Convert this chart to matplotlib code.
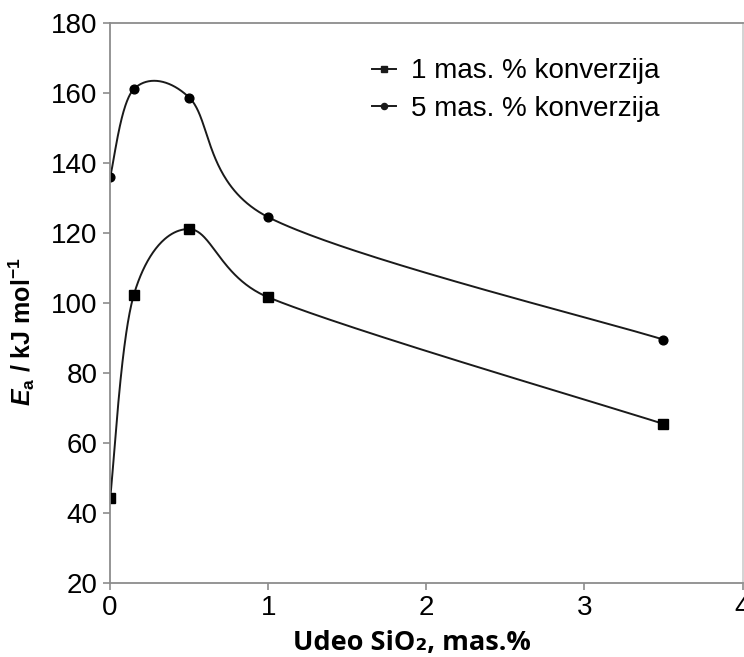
import matplotlib.pyplot as plt
import numpy as np

plt.rcParams['font.family'] = ['Liberation Sans', 'DejaVu Sans']
plt.rcParams['mathtext.fontset'] = 'custom'
plt.rcParams['mathtext.rm'] = 'Liberation Sans:bold'
plt.rcParams['mathtext.it'] = 'Liberation Sans:italic:bold'
plt.rcParams['mathtext.bf'] = 'Liberation Sans:bold'

# data
udeo_sio2 = [0.0, 0.15, 0.5, 1.0, 3.5]
ea_1 = [44.1, 102.3, 121.1, 101.6, 65.4]
ea_5 = [136.0, 161.1, 158.7, 124.5, 89.5]
labels = ['1 mas. % konverzija', '5 mas. % konverzija']


def smooth(ax, x, y, n=80):
  # Excel-like smoothed line, worked out in screen space:
  # Bezier segments, tangent = 1/6 of neighbour chord, capped at half the segment
  tr = ax.transData
  p = tr.transform(np.column_stack([x, y]))
  pts = np.vstack([p[0], p, p[-1]])
  t = np.linspace(0, 1, n)[:, None]
  out = []
  for i in range(1, len(pts) - 2):
    p0, p1, p2, p3 = pts[i - 1], pts[i], pts[i + 1], pts[i + 2]
    d12 = np.linalg.norm(p2 - p1)
    v1 = (p2 - p0) / 6
    v2 = (p3 - p1) / 6
    if np.linalg.norm(v1) > d12 / 2:
      v1 = v1 * (d12 / 2) / np.linalg.norm(v1)
    if np.linalg.norm(v2) > d12 / 2:
      v2 = v2 * (d12 / 2) / np.linalg.norm(v2)
    c1 = p1 + v1
    c2 = p2 - v2
    seg = (1 - t) ** 3 * p1 + 3 * (1 - t) ** 2 * t * c1 + 3 * (1 - t) * t ** 2 * c2 + t ** 3 * p2
    out.append(seg)
  out = tr.inverted().transform(np.vstack(out))
  return out[:, 0], out[:, 1]


fig = plt.figure(figsize=(7.44, 6.57), dpi=100)
ax = fig.add_axes([0.148, 0.113, 0.850, 0.852])
ax.set_xlim(0, 4)
ax.set_ylim(20, 180)

for ys, mk, ms, lab in [(ea_1, 's', 7, labels[0]), (ea_5, 'o', 6.3, labels[1])]:
  sx, sy = smooth(ax, udeo_sio2, ys)
  ax.plot(sx, sy, color='#1a1a1a', lw=1.4)
  ax.plot(udeo_sio2, ys, linestyle='none', marker=mk, ms=ms, color='black')
  ax.plot([], [], color='#1a1a1a', lw=1.4, marker=mk, ms=ms * 0.7, label=lab)

ax.set_xticks([0, 1, 2, 3, 4])
ax.set_yticks(np.arange(20, 181, 20))

for s in ax.spines.values():
  s.set_color('#8c8c8c')
  s.set_linewidth(1.3)
ax.spines['right'].set_color('#d0d0d0')
ax.tick_params(direction='out', length=5, width=1.2, color='#8c8c8c',
               labelsize=20, pad=4)

ax.set_xlabel('Udeo SiO₂, mas.%', fontsize=19.5, fontweight='bold',
              family=['Open Sans', 'DejaVu Sans'])
ax.xaxis.set_label_coords(0.477, -0.084)
ax.set_ylabel('$E_\\mathrm{a}$ / kJ mol$^\\mathrm{-1}$', fontsize=18, fontweight='bold',
              family=['Liberation Sans', 'DejaVu Sans'])
ax.yaxis.set_label_coords(-0.115, 0.449)

ax.legend(loc='upper left', bbox_to_anchor=(0.414, 0.937), frameon=False, fontsize=20,
          borderpad=0, borderaxespad=0,
          handlelength=0.85, handletextpad=0.55, labelspacing=0.42)

fig.savefig('out.png', dpi=100)
